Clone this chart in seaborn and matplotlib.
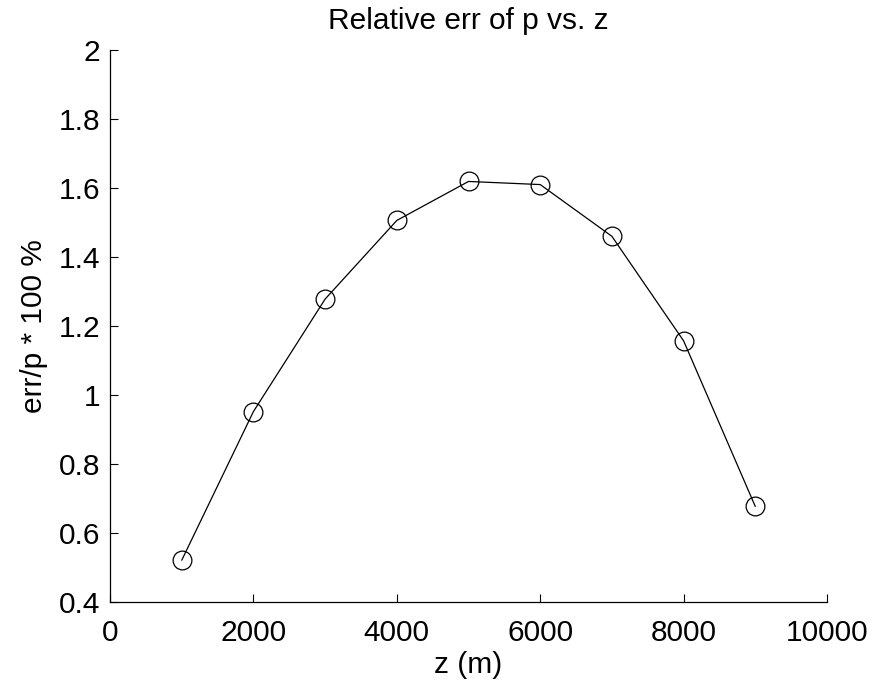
import matplotlib
matplotlib.use("Agg")
import matplotlib.pyplot as plt
import seaborn as sns
import pandas as pd

z = [1000, 2000, 3000, 4000, 5000, 6000, 7000, 8000, 9000]
rel_err = [0.521, 0.952, 1.278, 1.506, 1.619, 1.610, 1.460, 1.157, 0.677]
xticks = [0, 2000, 4000, 6000, 8000, 10000]
yticks = [0.4, 0.6, 0.8, 1.0, 1.2, 1.4, 1.6, 1.8, 2.0]
ytick_labels = ["0.4", "0.6", "0.8", "1", "1.2", "1.4", "1.6", "1.8", "2"]

sns.set_style("ticks")
plt.rcParams['font.family'] = ['Liberation Sans', 'DejaVu Sans']
plt.rcParams['text.color'] = 'black'
plt.rcParams['axes.labelcolor'] = 'black'

FS = 21.5
df = pd.DataFrame({"z": z, "err": rel_err})
fig = plt.figure(figsize=(8.74, 6.89), dpi=100)
ax = fig.add_axes([0.1259, 0.1263, 0.8203, 0.8011])
sns.lineplot(data=df, x="z", y="err", ax=ax, color="black", linewidth=0.9,
             marker="o", markersize=13.5, markerfacecolor="none",
             markeredgecolor="black", markeredgewidth=0.9)
ax.set_xlim(0, 10000)
ax.set_ylim(0.4, 2.0)
ax.set_xticks(xticks)
ax.set_xticklabels([str(t) for t in xticks])
ax.set_yticks(yticks)
ax.set_yticklabels(ytick_labels)
ax.tick_params(direction="in", length=6, width=0.8, labelsize=FS, colors="black")
ax.tick_params(axis="x", pad=12)
ax.tick_params(axis="y", pad=7)
for s in ["top", "right"]:
    ax.spines[s].set_visible(False)
for s in ["left", "bottom"]:
    ax.spines[s].set_linewidth(0.9)
    ax.spines[s].set_color("black")
ax.set_xlabel("z (m)", fontsize=FS, labelpad=3, color="black")
ax.set_ylabel("err/p * 100 %", fontsize=FS, labelpad=8, color="black")
ax.set_title("Relative err of p vs. z", fontsize=FS, pad=15, color="black")
fig.savefig("out.png", dpi=100)
